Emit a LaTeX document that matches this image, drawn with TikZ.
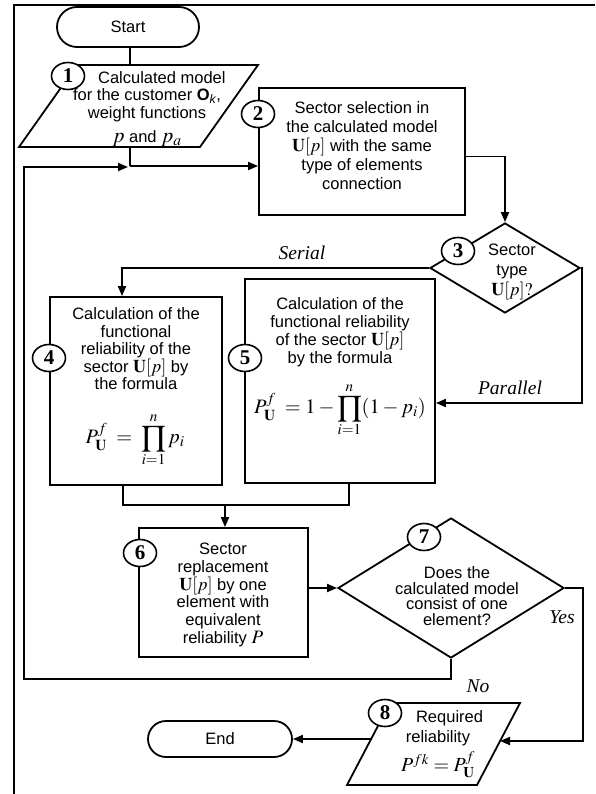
\documentclass[tikz,border=0pt]{standalone}
\usepackage{mathptmx}
\usepackage[no-math]{fontspec}
\setmainfont{Liberation Sans}
\newfontfamily\tmsfont{Liberation Serif}
\usetikzlibrary{arrows.meta,shapes.geometric,calc}
\newcommand\UpSec{{\fontsize{18}{18}\selectfont$\mathbf{U}[p]$}}
\begin{document}
\begin{tikzpicture}[x=1pt,y=-1pt,line width=1.8pt,
  txt/.style={font=\fontsize{16.5}{17.5}\selectfont, align=center, inner sep=0pt},
  fml/.style={font=\fontsize{20.5}{20.5}\selectfont, inner sep=0pt},
  boxnode/.style={draw, rectangle, inner sep=0pt},
  term/.style={draw, rectangle, inner sep=0pt, font=\fontsize{16.5}{17.5}\selectfont},
  dia/.style={draw, diamond, inner sep=0pt},
  num/.style={ellipse, draw, fill=white, minimum width=33pt, minimum height=27pt, inner sep=0pt, line width=1.6pt,
    font=\tmsfont\bfseries\fontsize{21}{21}\selectfont},
  lbl/.style={font=\tmsfont\itshape\fontsize{19.5}{20}\selectfont, inner sep=0pt},
  arr/.style={-{Triangle[length=10pt,width=8pt]}},
]
\useasboundingbox (0,0) rectangle (595,794);
% frame
\draw[line width=2pt] (13,5) -- (595,5);
\draw[line width=2pt] (14,5) -- (14,794);

% Start
\node[term, rounded corners=20pt, minimum width=142pt, minimum height=40pt] (start) at (128,27) {Start};

% parallelogram 1
\draw (19,147) -- (200,147) -- (258,65) -- (77,65) -- cycle;
\coordinate (p1in) at (130,65);
\coordinate (p1out) at (130,147);
\coordinate (jn) at (130,166);
\node[txt] (t1) at (147,109) {\hspace{1.8em}Calculated model\\for the customer \textbf{O}\textsubscript{\itshape k},\\weight functions\\[7pt]{\fontsize{21}{21}\selectfont$p$} and {\fontsize{21}{21}\selectfont$p_a$}};

% box 2
\node[boxnode, minimum width=206pt, minimum height=127pt] (b2) at (362,151.5) {};
\node[txt, font=\fontsize{16.5}{19}\selectfont] (t2) at (362,146) {Sector selection in\\the calculated model\\\UpSec{} with the same\\type of elements\\connection};

% diamond 3
\node[dia, minimum width=150pt, minimum height=90pt] (d3) at (505,268) {};
\node[txt, font=\fontsize{16.5}{20}\selectfont] (t3) at (512,272) {Sector\\type\\{\fontsize{18}{18}\selectfont$\mathbf{U}[p]?$}};

% box 4
\node[boxnode, minimum width=172pt, minimum height=188pt] (b4) at (136,391) {};
\node[txt] (t4) at (136,349) {Calculation of the\\functional\\reliability of the\\sector \UpSec{} by\\the formula};
\node[fml] (f4) at (135,440) {$\displaystyle P^{f}_{\mathbf{U}} \;=\; \prod_{i=1}^{n} p_i$};

% box 5
\node[boxnode, minimum width=190pt, minimum height=204pt] (b5) at (340,381) {};
\node[txt, font=\fontsize{16.5}{18}\selectfont] (t5) at (340,332) {Calculation of the\\functional reliability\\of the sector \UpSec\\by the formula};
\node[fml] (f5) at (340,410) {$\displaystyle P^{f}_{\mathbf{U}} \;= 1-\prod_{i=1}^{n} (1-p_i)$};

% box 6
\node[boxnode, minimum width=169pt, minimum height=129pt] (b6) at (223.5,592.5) {};
\node[txt, font=\fontsize{16.5}{17.8}\selectfont] (t6) at (223,595) {Sector\\replacement\\\UpSec{} by one\\element with\\equivalent\\reliability {\fontsize{19}{19}\selectfont$P$}};

% diamond 7
\node[dia, minimum width=226pt, minimum height=140pt] (d7) at (451,588) {};
\node[txt, font=\fontsize{16.5}{15.5}\selectfont] (t7) at (457,596) {Does the\\calculated model\\consist of one\\element?};

% parallelogram 8
\draw (347,785) -- (477,785) -- (520,703) -- (390,703) -- cycle;
\coordinate (p8in) at (500,741);
\coordinate (p8out) at (371,739);
\node[txt, font=\fontsize{16.5}{20}\selectfont] (t8) at (438,744) {\hspace{1.4em}Required\\reliability\\[5pt]{\fontsize{20}{20}\selectfont$P^{fk} = P^{f}_{\mathbf{U}}$}};

% End
\node[term, rounded corners=18pt, minimum width=144pt, minimum height=36pt] (end) at (220,739) {End};

% connectors
\draw (start.south -| p1in) -- (p1in);
\draw (p1out) -- (jn);
\draw[arr] (jn) -- (jn -| b2.west);
\coordinate (lpb) at (24,679);
\coordinate (lpt) at (24,167);
\draw[arr] (d7.south) |- (lpb) -- (lpt) -- ($(jn)+(-2,1)$);
\draw[arr] ($(b2.east)+(0,5)$) -| (d3.north);
\coordinate (sr) at (122,268);
\draw[arr] (d3.west) -- (sr) -- (sr |- b4.north);
\coordinate (pr) at (582,403);
\draw[arr] (d3.east) -| (pr) -- (pr -| b5.east);
\coordinate (m4) at (123,485);
\coordinate (m5) at (349,483);
\coordinate (mj) at (225,505);
\draw (m4) -- (m4 |- mj) -- (m5 |- mj) -- (m5);
\draw[arr] (mj) -- (mj |- b6.north);
\draw[arr] (b6.east |- d7.west) -- (d7.west);
\coordinate (yc) at (583,741);
\draw[arr] (d7.east) -| (yc) -- (p8in);
\draw[arr] (p8out) -- (p8out -| end.east);

% labels
\node[lbl] (lser) at (302,253) {Serial};
\node[lbl] (lpar) at (510,388) {Parallel};
\node[lbl] (lyes) at (562,617) {Yes};
\node[lbl] (lno) at (478,686) {No};

% numbers
\node[num] (n1) at (68,76) {1};
\node[num] (n2) at (258,114) {2};
\node[num] (n3) at (458,251) {3};
\node[num] (n4) at (49,358) {4};
\node[num] (n5) at (245,358) {5};
\node[num] (n6) at (140,553) {6};
\node[num] (n7) at (424,537) {7};
\node[num] (n8) at (385,713) {8};
\end{tikzpicture}
\end{document}
